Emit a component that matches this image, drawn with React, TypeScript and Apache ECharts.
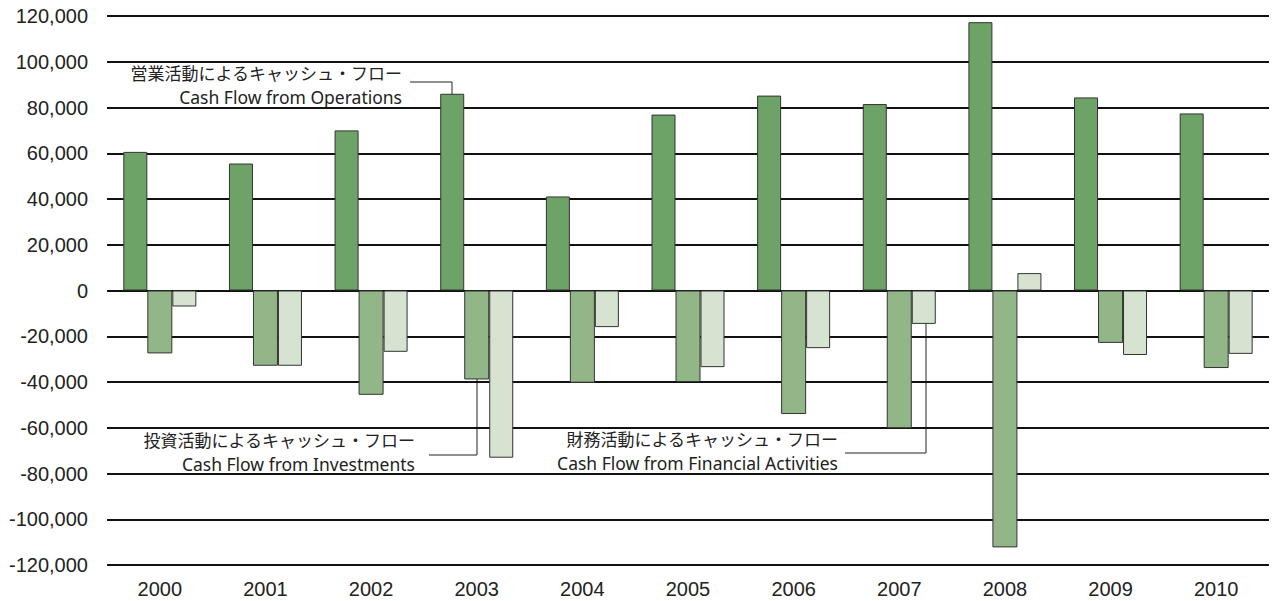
import React, { useEffect, useRef } from "react";
import * as echarts from "echarts";

const years = ["2000", "2001", "2002", "2003", "2004", "2005", "2006", "2007", "2008", "2009", "2010"];
const operations = [60600, 55500, 70000, 86000, 41100, 76900, 85200, 81500, 117300, 84400, 77400];
const investments = [-27500, -32900, -45600, -38900, -40300, -40000, -54000, -60200, -112300, -22900, -33900];
const financial = [-7000, -32900, -26800, -73100, -16000, -33500, -25200, -14600, 7600, -28200, -27700];

const opsLabel = ["営業活動によるキャッシュ・フロー", "Cash Flow from Operations"];
const invLabel = ["投資活動によるキャッシュ・フロー", "Cash Flow from Investments"];
const finLabel = ["財務活動によるキャッシュ・フロー", "Cash Flow from Financial Activities"];

const JP = "Noto Sans CJK JP";
const EN = "Noto Sans";
const AX = "Liberation Sans";
const TXT = "#222";

function annotation(lines: string[], right: number, yMid: number, pts: number[][]) {
  return [
    { type: "text", x: right, y: yMid - 12, style: { text: lines[0], fill: TXT, fontSize: 17, fontFamily: JP, align: "right", verticalAlign: "middle" } },
    { type: "text", x: right, y: yMid + 12.5, style: { text: lines[1], fill: TXT, fontSize: 17.5, fontFamily: EN, align: "right", verticalAlign: "middle" } },
    { type: "polyline", shape: { points: pts }, style: { stroke: "#222", lineWidth: 1, fill: null } },
  ];
}

export default function App() {
  const ref = useRef<HTMLDivElement>(null);
  useEffect(() => {
    if (!ref.current) return;
    const chart = echarts.init(ref.current, null, { renderer: "svg" });
    const border = { borderColor: "#333", borderWidth: 1 };
    chart.setOption({
      animation: false,
      backgroundColor: "#fff",
      grid: { left: 107, right: 7, top: 16, bottom: 36, containLabel: false },
      xAxis: {
        type: "category",
        data: years,
        axisLine: { show: false },
        axisTick: { show: false },
        axisLabel: { color: TXT, fontSize: 20, fontFamily: AX, margin: 14 },
      },
      yAxis: {
        type: "value",
        min: -120000,
        max: 120000,
        interval: 20000,
        axisLine: { show: false },
        axisTick: { show: false },
        axisLabel: {
          color: TXT,
          fontSize: 20,
          fontFamily: AX,
          margin: 19,
          formatter: (v: number) => v.toLocaleString("en-US"),
        },
        splitLine: { lineStyle: { color: "#111", width: 2 } },
      },
      series: [
        { name: "Operations", type: "bar", data: operations, barWidth: 24, barGap: "0%", itemStyle: { color: "#6da367", ...border } },
        { name: "Investments", type: "bar", data: investments, barWidth: 25, barGap: "0%", itemStyle: { color: "#93b688", ...border } },
        { name: "Financial", type: "bar", data: financial, barWidth: 24, barGap: "0%", itemStyle: { color: "#d6e3d1", ...border } },
      ],
      graphic: [
        ...annotation(opsLabel, 402, 84, [[410, 82], [452, 82], [452, 100]]),
        ...annotation(invLabel, 415, 451, [[429, 455], [477, 455], [477, 376]]),
        ...annotation(finLabel, 838, 450, [[845, 453], [926, 453], [926, 320]]),
      ],
    });
    return () => chart.dispose();
  }, []);
  return <div ref={ref} style={{ position: "fixed", left: 0, top: 0, width: 1276, height: 601 }} />;
}
